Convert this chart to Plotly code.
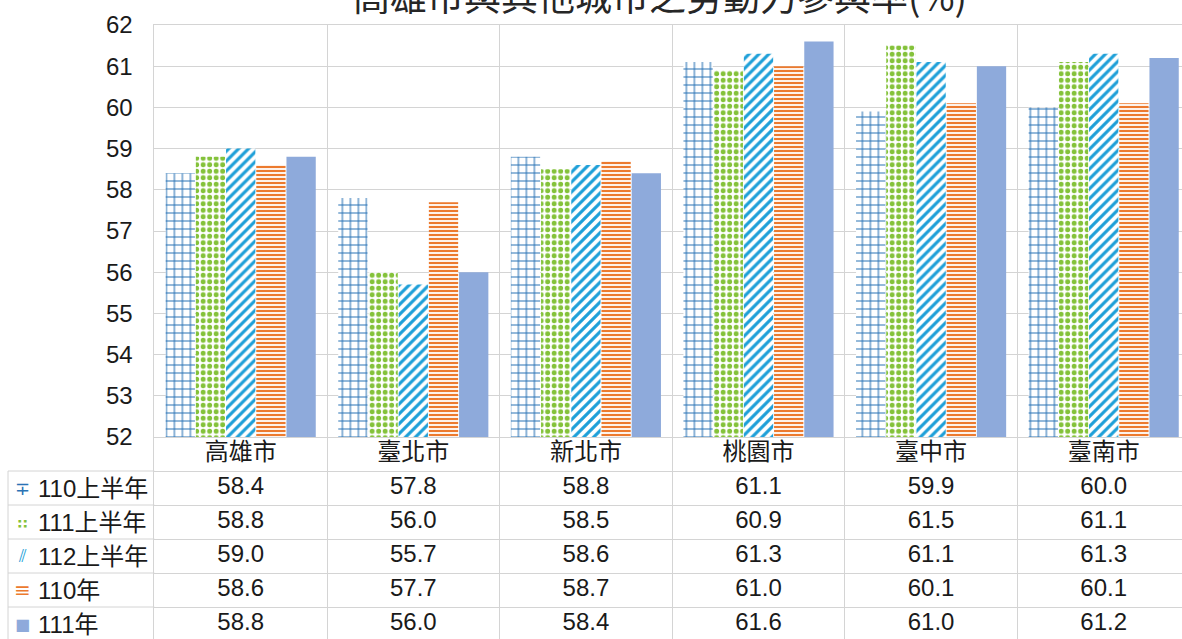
import plotly.graph_objects as go

# ---- data ----
cities = ["高雄市", "臺北市", "新北市", "桃園市", "臺中市", "臺南市"]
series_names = ["110上半年", "111上半年", "112上半年", "110年", "111年"]
v110h1 = [58.4, 57.8, 58.8, 61.1, 59.9, 60.0]
v111h1 = [58.8, 56.0, 58.5, 60.9, 61.5, 61.1]
v112h1 = [59.0, 55.7, 58.6, 61.3, 61.1, 61.3]
v110 = [58.6, 57.7, 58.7, 61.0, 60.1, 60.1]
v111 = [58.8, 56.0, 58.4, 61.6, 61.0, 61.2]
values = [v110h1, v111h1, v112h1, v110, v111]
title_text = "高雄市與其他城市之勞動力參與率(%)"
y_ticks = list(range(52, 63))

# ---- styles ----
colors = ["#2a73b5", "#84c23a", "#1d9fd8", "#ec7a2e", "#8eaadb"]
patterns = [
    dict(shape="+", size=8, solidity=0.25, fgcolor="#2a73b5", bgcolor="white", fgopacity=1),
    dict(shape=".", size=6.5, solidity=0.45, fgcolor="#84c23a", bgcolor="white", fgopacity=1),
    dict(shape="/", size=7, solidity=0.45, fgcolor="#1d9fd8", bgcolor="white", fgopacity=1),
    dict(shape="-", size=4, solidity=0.55, fgcolor="#ec7a2e", bgcolor="white", fgopacity=1),
    None,
]
icons = ["∓", "⠶", "⫽", "≡", "■"]
icon_sizes = [18, 18, 17, 20, 16]

W, H = 1182, 639
TOP = 25
PH = H - TOP
LEFT = 154.4
CAT_W = 172.6
ROW_H = 34.0
Y_BOTTOM_PX = 437.0
GRID = "#d4d4d4"
FONT = "Liberation Sans, Arial, Noto Sans CJK TC"
TXT = "#1a1a1a"

header_cat = " "
table_cats = list(reversed(series_names)) + [header_cat]

fig = go.Figure()

for i, name in enumerate(series_names):
    marker = dict(color=colors[i], line=dict(width=0))
    if patterns[i] is not None:
        marker["pattern"] = patterns[i]
    fig.add_trace(go.Bar(x=cities, y=values[i], name=name, marker=marker,
                         xaxis="x", yaxis="y", showlegend=False, hoverinfo="skip"))

# table cells
for i, name in enumerate(series_names):
    fig.add_trace(go.Scatter(
        x=cities, y=[name] * len(cities), mode="text",
        text=[f"{v:.1f}" for v in values[i]],
        textfont=dict(family=FONT, size=24, color=TXT),
        xaxis="x", yaxis="y2", showlegend=False, hoverinfo="skip"))
fig.add_trace(go.Scatter(
    x=cities, y=[header_cat] * len(cities), mode="text", text=cities,
    textfont=dict(family="Noto Sans CJK TC, Liberation Sans", size=24, color=TXT),
    xaxis="x", yaxis="y2", showlegend=False, hoverinfo="skip"))

x_dom0 = LEFT / W
x_max = -0.5 + (W - LEFT) / CAT_W
y_split = (H - Y_BOTTOM_PX) / PH
y2_min = (len(table_cats) - 0.5) - (H - Y_BOTTOM_PX) / ROW_H

annotations = []
shapes = []
for i, name in enumerate(series_names):
    annotations.append(dict(
        x=36 / W, xref="paper", y=name, yref="y2", xanchor="left", yanchor="middle",
        text=name, showarrow=False,
        font=dict(family=FONT, size=24, color=TXT)))
    annotations.append(dict(
        x=22 / W, xref="paper", y=name, yref="y2", xanchor="center", yanchor="middle",
        text=icons[i], showarrow=False,
        font=dict(family="DejaVu Sans", size=icon_sizes[i], color=colors[i])))
# title (cut off at the top like the reference)
annotations.append(dict(
    x=660 / W, xref="paper", y=(H + 5) / PH, yref="paper", xanchor="center", yanchor="middle",
    text=title_text, showarrow=False,
    font=dict(family="Noto Sans CJK TC", size=37, color="#262626")))

# legend-column borders
for k in range(len(series_names)):
    yb = k + 0.5
    shapes.append(dict(type="line", xref="paper", yref="y2", x0=8 / W, x1=x_dom0,
                       y0=yb, y1=yb, line=dict(color=GRID, width=1)))
shapes.append(dict(type="line", xref="paper", yref="y2", x0=8 / W, x1=8 / W,
                   y0=len(series_names) - 0.5, y1=y2_min - 1, line=dict(color=GRID, width=1)))

fig.update_layout(
    template="none",
    width=W, height=H, autosize=False,
    margin=dict(l=0, r=0, t=TOP, b=0, pad=0, autoexpand=False),
    paper_bgcolor="white", plot_bgcolor="white",
    barmode="group", bargap=0.125, bargroupgap=0.03,
    xaxis=dict(domain=[x_dom0, 1], type="category", categoryorder="array",
               categoryarray=cities, range=[-0.5, x_max], tickson="boundaries",
               showgrid=True, gridcolor=GRID, gridwidth=1, showticklabels=False,
               ticks="", showline=True, mirror=True, linecolor=GRID, linewidth=1,
               anchor="y", zeroline=False, automargin=False),
    yaxis=dict(domain=[y_split, 1], range=[52, 62], tickvals=y_ticks,
               showgrid=True, gridcolor=GRID, gridwidth=1, zeroline=False,
               showline=True, linecolor=GRID, linewidth=1, ticks="",
               ticklabelstandoff=16, automargin=False,
               tickfont=dict(family=FONT, size=24, color=TXT), anchor="x"),
    yaxis2=dict(domain=[0, y_split], type="category", categoryorder="array",
                categoryarray=table_cats, range=[y2_min, len(table_cats) - 0.5],
                tickson="boundaries", showgrid=True, gridcolor=GRID, gridwidth=1,
                showticklabels=False, ticks="", showline=True, linecolor=GRID,
                linewidth=1, anchor="x", zeroline=False, automargin=False),
    annotations=annotations,
    shapes=shapes,
)

fig.write_html("out.html", config={"displayModeBar": False},
               post_script="document.body.style.margin='0';document.body.style.overflow='hidden';")
